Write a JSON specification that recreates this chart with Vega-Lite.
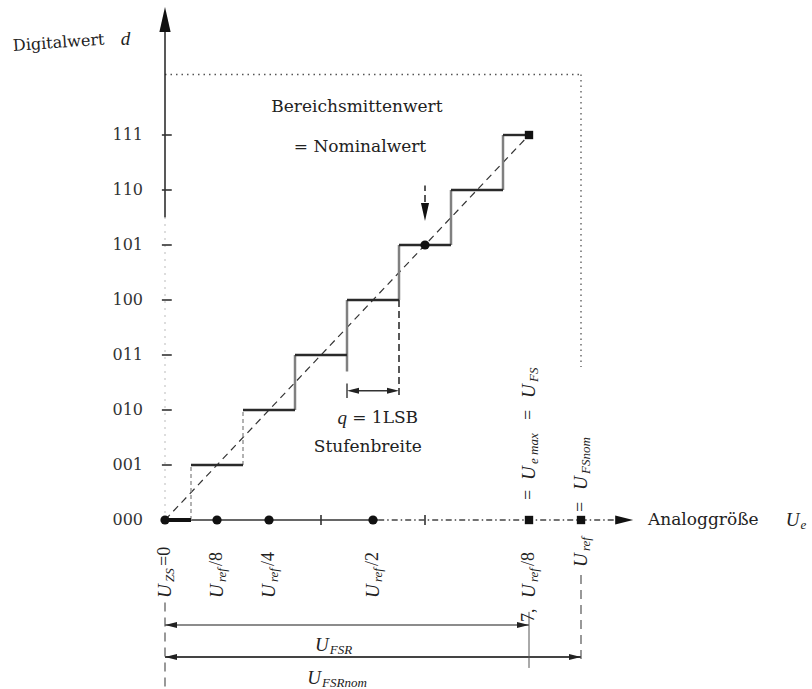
{
  "$schema": "https://vega.github.io/schema/vega-lite/v6.json",
  "width": 812,
  "height": 689,
  "autosize": {"type": "none"},
  "padding": 0,
  "background": "white",
  "config": {"view": {"stroke": null}},
  "encoding": {
    "x": {"field": "x", "type": "quantitative", "scale": {"domain": [-3.1731, 12.4423], "nice": false, "zero": false}, "axis": null},
    "y": {"field": "y", "type": "quantitative", "scale": {"domain": [-3.0727, 9.4545], "nice": false, "zero": false}, "axis": null}
  },
  "layer": [
    {
      "data": {"values": [{"x": 0, "y": 8.1, "x2": 8, "y2": 8.1}, {"x": 8, "y": 8.1, "x2": 8, "y2": 2.78}]},
      "mark": {"type": "rule", "color": "#555", "strokeWidth": 1.3, "strokeDash": [1.5, 4]},
      "encoding": {"x2": {"field": "x2"}, "y2": {"field": "y2"}}
    },
    {
      "data": {"values": [{"x": 0, "y": 5.5, "x2": 0, "y2": 9.0}]},
      "mark": {"type": "rule", "color": "#222", "strokeWidth": 1.5},
      "encoding": {"x2": {"field": "x2"}, "y2": {"field": "y2"}}
    },
    {
      "data": {"values": [{"x": 0, "y": 0, "x2": 0, "y2": 5.5}]},
      "mark": {"type": "rule", "color": "#bbb", "strokeWidth": 1, "strokeDash": [2, 5]},
      "encoding": {"x2": {"field": "x2"}, "y2": {"field": "y2"}}
    },
    {
      "data": {"values": [
        {"x": -0.06, "y": 1, "x2": 0.13, "y2": 1},
        {"x": -0.06, "y": 2, "x2": 0.13, "y2": 2},
        {"x": -0.06, "y": 3, "x2": 0.13, "y2": 3},
        {"x": -0.06, "y": 4, "x2": 0.13, "y2": 4},
        {"x": -0.06, "y": 5, "x2": 0.13, "y2": 5},
        {"x": -0.06, "y": 6, "x2": 0.13, "y2": 6},
        {"x": -0.06, "y": 7, "x2": 0.13, "y2": 7},
        {"x": 3, "y": -0.09, "x2": 3, "y2": 0.09},
        {"x": 5, "y": -0.09, "x2": 5, "y2": 0.09}
      ]},
      "mark": {"type": "rule", "color": "#333", "strokeWidth": 1.6},
      "encoding": {"x2": {"field": "x2"}, "y2": {"field": "y2"}}
    },
    {
      "data": {"values": [{"x": 0, "y": 0, "x2": 4.1, "y2": 0}]},
      "mark": {"type": "rule", "color": "#333", "strokeWidth": 1.3},
      "encoding": {"x2": {"field": "x2"}, "y2": {"field": "y2"}}
    },
    {
      "data": {"values": [{"x": 4.1, "y": 0, "x2": 8.7, "y2": 0}]},
      "mark": {"type": "rule", "color": "#444", "strokeWidth": 1.3, "strokeDash": [6, 3, 1.5, 3]},
      "encoding": {"x2": {"field": "x2"}, "y2": {"field": "y2"}}
    },
    {
      "data": {"values": [{"x": 0, "y": 0, "x2": 7, "y2": 7}]},
      "mark": {"type": "rule", "color": "#333", "strokeWidth": 1.2, "strokeDash": [7, 5]},
      "encoding": {"x2": {"field": "x2"}, "y2": {"field": "y2"}}
    },
    {
      "data": {"values": [
        {"x": 2.5, "y": 2, "x2": 2.5, "y2": 3},
        {"x": 3.5, "y": 2.7, "x2": 3.5, "y2": 4},
        {"x": 4.5, "y": 4, "x2": 4.5, "y2": 5},
        {"x": 5.5, "y": 5, "x2": 5.5, "y2": 6},
        {"x": 6.5, "y": 6, "x2": 6.5, "y2": 7}
      ]},
      "mark": {"type": "rule", "color": "#808080", "strokeWidth": 2.5},
      "encoding": {"x2": {"field": "x2"}, "y2": {"field": "y2"}}
    },
    {
      "data": {"values": [
        {"x": 0.5, "y": 0, "x2": 0.5, "y2": 1},
        {"x": 1.5, "y": 1, "x2": 1.5, "y2": 2}
      ]},
      "mark": {"type": "rule", "color": "#999", "strokeWidth": 1.5, "strokeDash": [4, 3]},
      "encoding": {"x2": {"field": "x2"}, "y2": {"field": "y2"}}
    },
    {
      "data": {"values": [
        {"x": 0.5, "y": 1, "x2": 1.5, "y2": 1},
        {"x": 1.5, "y": 2, "x2": 2.5, "y2": 2},
        {"x": 2.5, "y": 3, "x2": 3.5, "y2": 3},
        {"x": 3.5, "y": 4, "x2": 4.5, "y2": 4},
        {"x": 4.5, "y": 5, "x2": 5.5, "y2": 5},
        {"x": 5.5, "y": 6, "x2": 6.5, "y2": 6},
        {"x": 6.5, "y": 7, "x2": 7, "y2": 7}
      ]},
      "mark": {"type": "rule", "color": "#2a2a2a", "strokeWidth": 2.4},
      "encoding": {"x2": {"field": "x2"}, "y2": {"field": "y2"}}
    },
    {
      "data": {"values": [{"x": 0, "y": 0, "x2": 0.5, "y2": 0}]},
      "mark": {"type": "rule", "color": "#111", "strokeWidth": 4},
      "encoding": {"x2": {"field": "x2"}, "y2": {"field": "y2"}}
    },
    {
      "data": {"values": [
        {"x": 4.5, "y": 4, "x2": 4.5, "y2": 2.2},
        {"x": 5, "y": 5.78, "x2": 5, "y2": 6.08}
      ]},
      "mark": {"type": "rule", "color": "#222", "strokeWidth": 1.5, "strokeDash": [7, 4]},
      "encoding": {"x2": {"field": "x2"}, "y2": {"field": "y2"}}
    },
    {
      "data": {"values": [
        {"x": 3.5, "y": 2.22, "x2": 3.5, "y2": 2.48},
        {"x": 3.6, "y": 2.35, "x2": 4.4, "y2": 2.35}
      ]},
      "mark": {"type": "rule", "color": "#333", "strokeWidth": 1.4},
      "encoding": {"x2": {"field": "x2"}, "y2": {"field": "y2"}}
    },
    {
      "data": {"values": [{"x": 0, "y": -1.909, "x2": 7, "y2": -1.909}]},
      "mark": {"type": "rule", "color": "#666", "strokeWidth": 1.3},
      "encoding": {"x2": {"field": "x2"}, "y2": {"field": "y2"}}
    },
    {
      "data": {"values": [{"x": 0, "y": -2.491, "x2": 8, "y2": -2.491}]},
      "mark": {"type": "rule", "color": "#444", "strokeWidth": 2},
      "encoding": {"x2": {"field": "x2"}, "y2": {"field": "y2"}}
    },
    {
      "data": {"values": [
        {"x": 0, "y": -1.5, "x2": 0, "y2": -3.07},
        {"x": 8, "y": -1.0, "x2": 8, "y2": -2.58}
      ]},
      "mark": {"type": "rule", "color": "#555", "strokeWidth": 1.2, "strokeDash": [9, 6]},
      "encoding": {"x2": {"field": "x2"}, "y2": {"field": "y2"}}
    },
    {
      "data": {"values": [{"x": 7, "y": -1.67, "x2": 7, "y2": -2.69}]},
      "mark": {"type": "rule", "color": "#555", "strokeWidth": 1},
      "encoding": {"x2": {"field": "x2"}, "y2": {"field": "y2"}}
    },
    {
      "data": {"values": [{"x": 0, "y": 9.1, "dir": "up"}]},
      "mark": {"type": "point", "filled": true, "color": "#111", "opacity": 1, "size": 625},
      "encoding": {"shape": {"field": "dir", "type": "nominal", "legend": null, "scale": {"domain": ["up", "down", "left", "right"], "range": ["M0,-1L-0.45,1L0.45,1Z", "M0,1L-0.45,-1L0.45,-1Z", "M-1,0L1,-0.5L1,0.5Z", "M1,0L-1,-0.5L-1,0.5Z"]}}}
    },
    {
      "data": {"values": [{"x": 8.83, "y": 0, "dir": "right"}, {"x": 5, "y": 5.6, "dir": "down"}]},
      "mark": {"type": "point", "filled": true, "color": "#111", "opacity": 1, "size": 324},
      "encoding": {"shape": {"field": "dir", "type": "nominal", "legend": null, "scale": {"domain": ["up", "down", "left", "right"], "range": ["M0,-1L-0.45,1L0.45,1Z", "M0,1L-0.45,-1L0.45,-1Z", "M-1,0L1,-0.5L1,0.5Z", "M1,0L-1,-0.5L-1,0.5Z"]}}}
    },
    {
      "data": {"values": [
        {"x": 0.115, "y": -1.909, "dir": "left"},
        {"x": 6.885, "y": -1.909, "dir": "right"},
        {"x": 0.115, "y": -2.491, "dir": "left"},
        {"x": 7.885, "y": -2.491, "dir": "right"},
        {"x": 3.615, "y": 2.35, "dir": "left"},
        {"x": 4.385, "y": 2.35, "dir": "right"}
      ]},
      "mark": {"type": "point", "filled": true, "color": "#222", "opacity": 1, "size": 144},
      "encoding": {"shape": {"field": "dir", "type": "nominal", "legend": null, "scale": {"domain": ["up", "down", "left", "right"], "range": ["M0,-1L-0.45,1L0.45,1Z", "M0,1L-0.45,-1L0.45,-1Z", "M-1,0L1,-0.5L1,0.5Z", "M1,0L-1,-0.5L-1,0.5Z"]}}}
    },
    {
      "data": {"values": [{"x": 0, "y": 0}, {"x": 1, "y": 0}, {"x": 2, "y": 0}, {"x": 4, "y": 0}, {"x": 5, "y": 5}]},
      "mark": {"type": "circle", "color": "#111", "opacity": 1, "size": 85}
    },
    {
      "data": {"values": [{"x": 7, "y": 0}, {"x": 8, "y": 0}, {"x": 7, "y": 7}]},
      "mark": {"type": "square", "color": "#111", "opacity": 1, "size": 70}
    },
    {
      "data": {"values": [
        {"x": -0.423, "y": 0, "t": "000"},
        {"x": -0.423, "y": 1, "t": "001"},
        {"x": -0.423, "y": 2, "t": "010"},
        {"x": -0.423, "y": 3, "t": "011"},
        {"x": -0.423, "y": 4, "t": "100"},
        {"x": -0.423, "y": 5, "t": "101"},
        {"x": -0.423, "y": 6, "t": "110"},
        {"x": -0.423, "y": 7, "t": "111"}
      ]},
      "mark": {"type": "text", "font": "DejaVu Serif", "fontSize": 16, "color": "#333", "align": "right", "baseline": "middle"},
      "encoding": {"text": {"field": "t"}}
    },
    {
      "data": {"values": [
        {"x": 3.69, "y": 7.51, "t": "Bereichsmittenwert"},
        {"x": 3.75, "y": 6.78, "t": "= Nominalwert"},
        {"x": 3.9, "y": 1.33, "t": "Stufenbreite"}
      ]},
      "mark": {"type": "text", "font": "DejaVu Serif", "fontSize": 17, "color": "#222", "align": "center", "baseline": "middle"},
      "encoding": {"text": {"field": "t"}}
    },
    {
      "data": {"values": [{"x": 9.288, "y": 0, "t": "Analoggröße"}, {"x": 3.6, "y": 1.85, "t": "= 1LSB"}]},
      "mark": {"type": "text", "font": "DejaVu Serif", "fontSize": 17, "color": "#222", "align": "left", "baseline": "middle"},
      "encoding": {"text": {"field": "t"}}
    },
    {
      "data": {"values": [{"x": -2.923, "y": 8.62, "t": "Digitalwert"}]},
      "mark": {"type": "text", "font": "DejaVu Serif", "fontSize": 16, "color": "#222", "align": "left", "baseline": "middle", "angle": 356},
      "encoding": {"text": {"field": "t"}}
    },
    {
      "data": {"values": [
        {"x": 3.15, "y": -2.273, "t": "U"},
        {"x": 3.0, "y": -2.873, "t": "U"},
        {"x": 12.2, "y": 0, "t": "U"},
        {"x": -0.67, "y": 8.74, "t": "d"},
        {"x": 3.5, "y": 1.85, "t": "q"}
      ]},
      "mark": {"type": "text", "font": "Liberation Serif", "fontStyle": "italic", "fontSize": 19, "color": "#222", "align": "right", "baseline": "middle"},
      "encoding": {"text": {"field": "t"}}
    },
    {
      "data": {"values": [
        {"x": 3.15, "y": -2.273, "t": "FSR"},
        {"x": 3.0, "y": -2.873, "t": "FSRnom"},
        {"x": 12.2, "y": 0, "t": "e"}
      ]},
      "mark": {"type": "text", "font": "Liberation Serif", "fontStyle": "italic", "fontSize": 13, "color": "#222", "align": "left", "baseline": "middle", "dx": 1, "dy": 5},
      "encoding": {"text": {"field": "t"}}
    },
    {
      "data": {"values": [
        {"x": 0, "y": -1.418, "t": "U"},
        {"x": 1, "y": -1.418, "t": "U"},
        {"x": 2, "y": -1.418, "t": "U"},
        {"x": 4, "y": -1.418, "t": "U"},
        {"x": 7, "y": -1.418, "t": "U"},
        {"x": 7, "y": 0.727, "t": "U"},
        {"x": 7, "y": 2.218, "t": "U"},
        {"x": 8, "y": -0.855, "t": "U"},
        {"x": 8, "y": 0.545, "t": "U"}
      ]},
      "mark": {"type": "text", "font": "Liberation Serif", "fontStyle": "italic", "fontSize": 19, "color": "#222", "align": "left", "baseline": "middle", "angle": 270},
      "encoding": {"text": {"field": "t"}}
    },
    {
      "data": {"values": [
        {"x": 0, "y": -1.127, "t": "ZS"},
        {"x": 1, "y": -1.127, "t": "ref"},
        {"x": 2, "y": -1.127, "t": "ref"},
        {"x": 4, "y": -1.127, "t": "ref"},
        {"x": 7, "y": -1.127, "t": "ref"},
        {"x": 7, "y": 1.018, "t": "e max"},
        {"x": 7, "y": 2.509, "t": "FS"},
        {"x": 8, "y": -0.564, "t": "ref"},
        {"x": 8, "y": 0.836, "t": "FSnom"}
      ]},
      "mark": {"type": "text", "font": "Liberation Serif", "fontStyle": "italic", "fontSize": 13, "color": "#222", "align": "left", "baseline": "middle", "angle": 270, "dy": 5},
      "encoding": {"text": {"field": "t"}}
    },
    {
      "data": {"values": [
        {"x": 0, "y": -0.836, "t": "=0"},
        {"x": 1, "y": -0.836, "t": " /8"},
        {"x": 2, "y": -0.836, "t": " /4"},
        {"x": 4, "y": -0.836, "t": " /2"},
        {"x": 7, "y": -0.836, "t": " /8"},
        {"x": 7, "y": -1.855, "t": "7,"},
        {"x": 7, "y": 0.364, "t": "="},
        {"x": 7, "y": 1.818, "t": "="},
        {"x": 8, "y": 0.145, "t": "="}
      ]},
      "mark": {"type": "text", "font": "Liberation Serif", "fontSize": 18, "color": "#222", "align": "left", "baseline": "middle", "angle": 270},
      "encoding": {"text": {"field": "t"}}
    }
  ]
}
